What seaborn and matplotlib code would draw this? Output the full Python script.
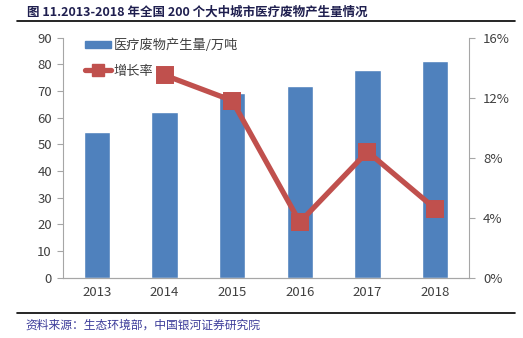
import matplotlib
matplotlib.use("Agg")
import matplotlib.pyplot as plt
import seaborn as sns
import pandas as pd
from matplotlib.lines import Line2D
from matplotlib.patches import Patch

years = ["2013", "2014", "2015", "2016", "2017", "2018"]
waste = [54.5, 62.0, 69.4, 71.8, 77.8, 81.4]
growth = [None, 13.5, 11.8, 3.7, 8.4, 4.6]
bar_label = "医疗废物产生量/万吨"
line_label = "增长率"
title = "图 11.2013-2018 年全国 200 个大中城市医疗废物产生量情况"
source = "资料来源：生态环境部，中国银河证券研究院"
left_ticks = list(range(0, 91, 10))
right_ticks = [0, 4, 8, 12, 16]

sns.set_theme(style="white")
plt.rcParams["font.family"] = ["Noto Sans CJK SC", "DejaVu Sans"]

bar_color = "#4F81BD"
line_color = "#C0504D"
spine_color = "#A6A6A6"
text_color = "#404040"

df_bar = pd.DataFrame({"year": years, "waste": waste})
df_line = pd.DataFrame({"year": years, "growth": growth}).dropna()

fig = plt.figure(figsize=(5.23, 3.38), dpi=100)
ax = fig.add_axes([63/523, 1-277.7/338, (469-63)/523, (277.7-37.6)/338])
sns.barplot(data=df_bar, x="year", y="waste", order=years, color=bar_color,
            width=0.39, saturation=1, ax=ax, zorder=2)
ax.set_ylim(0, 90)
ax.set_yticks(left_ticks)
ax.set_xlim(-0.5, len(years) - 0.5)
ax.set_xlabel("")
ax.set_ylabel("")

ax2 = ax.twinx()
sns.pointplot(data=df_line, x="year", y="growth", order=years, color=line_color,
              markers="s", linewidth=3.8, markersize=9.5, ax=ax2, errorbar=None)
for ln in ax2.lines:
    ln.set_markeredgecolor(line_color)
ax2.set_ylim(0, 16)
ax2.set_yticks(right_ticks)
ax2.set_yticklabels([f"{t}%" for t in right_ticks])
ax2.set_xlim(-0.5, len(years) - 0.5)
ax2.set_xlabel("")
ax2.set_ylabel("")

for a in (ax, ax2):
    a.spines["top"].set_visible(False)
    for s in ("left", "right", "bottom"):
        a.spines[s].set_color(spine_color)
        a.spines[s].set_linewidth(0.8)
    a.tick_params(colors=text_color, labelsize=9.5, length=4, width=0.8, direction="out")
    a.tick_params(axis="both", color=spine_color)
ax.spines["right"].set_visible(False)
ax2.spines["left"].set_visible(False)

ax.set_xticks([i for i in range(len(years))])
ax.set_xticklabels(years)
ax.tick_params(axis="x", length=0, pad=6)
ax.set_xticks([i - 0.5 for i in range(len(years) + 1)], minor=True)
ax.tick_params(axis="x", which="minor", length=5, color=spine_color, width=0.8)
ax.tick_params(axis="y", pad=4)
ax2.tick_params(axis="y", pad=6)

handles = [Patch(facecolor=bar_color, edgecolor=bar_color),
           Line2D([0], [0], color=line_color, lw=3.8, marker="s", markersize=8)]
ax.legend(handles, [bar_label, line_label], loc="upper left",
          bbox_to_anchor=((85 - 63) / 406, (277.7 - 38.5) / 240.1),
          borderaxespad=0, borderpad=0, frameon=False, fontsize=9.5,
          handlelength=2.0, handleheight=0.5, labelspacing=0.95,
          handletextpad=0.15, labelcolor=text_color)

fig.text(27/523, 1-12/338, title, fontsize=9, fontweight="bold",
         color="#1F1F4F", va="center", ha="left",
         family=["Noto Sans CJK SC", "DejaVu Sans"])
fig.add_artist(Line2D([17/523, 515/523], [1-21/338, 1-21/338], color="black", lw=1.2))
fig.add_artist(Line2D([17/523, 515/523], [1-313/338, 1-313/338], color="black", lw=1.2))
fig.text(25/523, 1-325/338, source, fontsize=8.5, style="italic",
         color="#3C3C9A", va="center", ha="left")

fig.savefig("out.png", dpi=100)
